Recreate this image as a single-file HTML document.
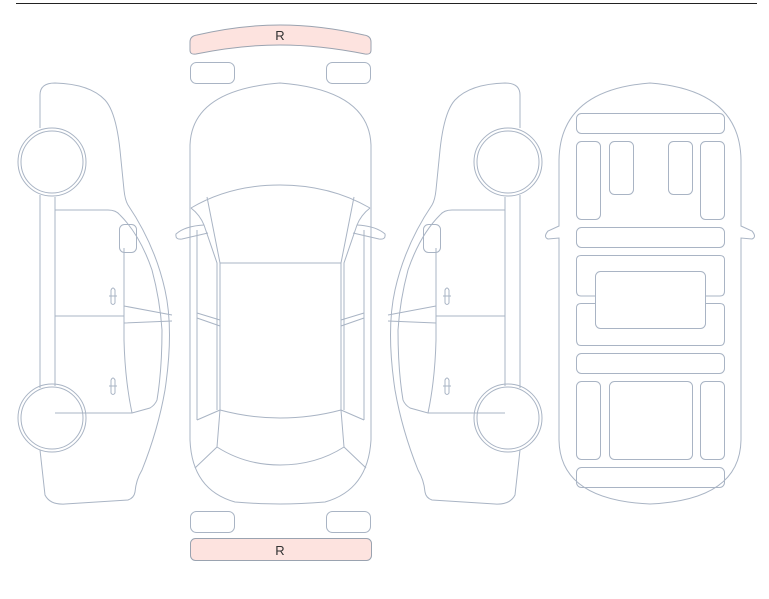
<!DOCTYPE html>
<html><head><style>
html,body{margin:0;padding:0;background:#fff;width:769px;height:599px;overflow:hidden}
svg{display:block}
</style></head><body>
<svg width="769" height="599" viewBox="0 0 769 599" xmlns="http://www.w3.org/2000/svg" fill="none" stroke="#a9b4c4" stroke-width="1">
<line x1="16" y1="3.5" x2="757" y2="3.5" stroke="#222" stroke-width="1"/>
<!-- front bumper -->
<path d="M190,42 Q190,36 197,35 Q240,25 280,25 Q320,25 364,35 Q371,36 371,42 L371,50 Q371,55 365,54 Q320,45 280,45 Q240,45 196,54 Q190,55 190,50 Z" fill="#fde3df" stroke="#9aa3b0"/>
<text x="280" y="40" font-family="Liberation Sans, sans-serif" font-size="13" fill="#333" stroke="none" text-anchor="middle">R</text>
<rect x="190.5" y="62.5" width="44" height="21" rx="6"/>
<rect x="326.5" y="62.5" width="44" height="21" rx="6"/>
<rect x="190.5" y="511.5" width="44" height="21" rx="6"/>
<rect x="326.5" y="511.5" width="44" height="21" rx="6"/>
<rect x="190.5" y="538.5" width="181" height="22" rx="5" fill="#fde3df" stroke="#9aa3b0"/>
<text x="280" y="555" font-family="Liberation Sans, sans-serif" font-size="13" fill="#333" stroke="none" text-anchor="middle">R</text>
<!-- center top car -->
<path d="M190,145 Q192,90 280,83 Q369,90 371,145 L371,440 Q368,490 325,502 Q300,504 280,504 Q260,504 235,502 Q192,490 190,440 Z"/>
<path d="M191,208 Q230,185 280,185 Q330,185 370,208"/>
<path d="M207,197 L220,263 M354,197 L341,263 M220,263 L341,263"/>
<path d="M191,208 Q200,215 204,225 L217,263 L217,410 M370,208 Q361,215 357,225 L344,263 L344,410"/>
<path d="M220,263 L220,410 M341,263 L341,410"/>
<path d="M197,230 L197,420 M364,230 L364,420"/>
<path d="M197,313 L220,320 M197,318 L220,326 M364,313 L341,320 M364,318 L341,326"/>
<path d="M220,410 Q250,418 280,418 Q311,418 341,410"/>
<path d="M217,447 Q245,465 280,465 Q316,465 344,447 M220,410 L217,447 M341,410 L344,447"/>
<path d="M197,420 L220,410 M364,420 L341,410 M217,447 L195,468 M344,447 L366,468"/>
<path d="M204,225 Q185,226 176,234 Q175,240 182,239 L208,233 M357,225 Q376,226 385,234 Q386,240 379,239 L353,233"/>
<!-- left side car -->
<g id="side">
<path d="M40,128 L40,95 Q40,83 55,83 Q90,84 105,100 Q116,112 120,150 L124,190 Q125,200 128,205 Q155,245 165,290 Q174,330 165,390 Q158,430 142,470 Q136,480 135,492 Q134,498 128,500 L65,504 Q50,505 45,495 L40,450"/>
<path d="M40,195 L40,388"/>
<path d="M55,197 L55,386"/>
<circle cx="52" cy="162" r="34"/>
<circle cx="52" cy="162" r="31"/>
<circle cx="52" cy="418" r="34"/>
<circle cx="52" cy="418" r="31"/>
<path d="M55,210 L108,210 Q116,210 120,215 Q140,235 152,270 Q160,300 162,330 Q162,370 157,400 Q155,405 150,408 L132,413 L55,413"/>
<path d="M55,316 L124,316"/>
<path d="M124,248 L124,340 Q125,380 132,413"/>
<path d="M124,306 L172,315 M124,323 L172,321"/>
<rect x="119.5" y="224.5" width="17" height="28" rx="5"/>
<path d="M111,290 L111,303 Q113,306 115,303 L115,290 Q113,286 111,290 M109,296 L117,296"/>
<path d="M111,380 L111,393 Q113,396 115,393 L115,380 Q113,376 111,380 M109,386 L117,386"/>
</g>
<use href="#side" transform="translate(560,0) scale(-1,1)"/>
<!-- right interior car -->
<path d="M559,160 Q560,90 650,83 Q740,90 741,160 L741,226 L752,231 Q757,237 752,239 L741,238 L741,440 Q740,500 650,504 Q560,500 559,440 L559,238 L548,239 Q543,237 548,231 L559,226 Z"/>
<g>
<rect x="576.5" y="113.5" width="148" height="20" rx="5"/>
<rect x="576.5" y="141.5" width="24" height="78" rx="5"/>
<rect x="609.5" y="141.5" width="24" height="53" rx="5"/>
<rect x="668.5" y="141.5" width="24" height="53" rx="5"/>
<rect x="700.5" y="141.5" width="24" height="78" rx="5"/>
<rect x="576.5" y="227.5" width="148" height="20" rx="5"/>
<path d="M595,296 L581,296 Q576.5,296 576.5,291 L576.5,260 Q576.5,255.5 581,255.5 L720,255.5 Q724.5,255.5 724.5,260 L724.5,291 Q724.5,296 720,296 L705,296"/>
<path d="M595,303.5 L581,303.5 Q576.5,303.5 576.5,308 L576.5,340 Q576.5,345.5 581,345.5 L720,345.5 Q724.5,345.5 724.5,340 L724.5,308 Q724.5,303.5 720,303.5 L705,303.5"/>
<rect x="595.5" y="271.5" width="110" height="57" rx="5"/>
<rect x="576.5" y="353.5" width="148" height="20" rx="5"/>
<rect x="576.5" y="381.5" width="24" height="78" rx="5"/>
<rect x="609.5" y="381.5" width="83" height="78" rx="5"/>
<rect x="700.5" y="381.5" width="24" height="78" rx="5"/>
<rect x="576.5" y="467.5" width="148" height="20" rx="5"/>
</g>
</svg>
</body></html>
